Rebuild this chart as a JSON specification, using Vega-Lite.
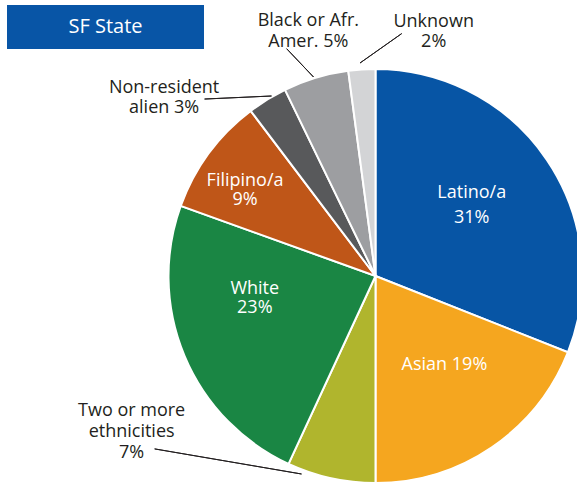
{
  "$schema": "https://vega.github.io/schema/vega-lite/v6.json",
  "padding": {"left": 7, "top": 5, "right": 0, "bottom": 0},
  "background": "white",
  "bounds": "flush",
  "spacing": 0,
  "config": {"font": "Open Sans", "view": {"stroke": null}},
  "datasets": {
    "groups": [
      {"order": 1, "category": "Latino/a", "value": 31.0, "label": "Latino/a\n31%"},
      {"order": 2, "category": "Asian", "value": 19.0, "label": "Asian 19%"},
      {"order": 3, "category": "Two or more ethnicities", "value": 6.9, "label": "Two or more\nethnicities\n7%"},
      {"order": 4, "category": "White", "value": 23.6, "label": "White\n23%"},
      {"order": 5, "category": "Filipino/a", "value": 9.2, "label": "Filipino/a\n9%"},
      {"order": 6, "category": "Non-resident alien", "value": 3.1, "label": "Non-resident\nalien 3%"},
      {"order": 7, "category": "Black or Afr. Amer.", "value": 5.1, "label": "Black or Afr.\nAmer. 5%"},
      {"order": 8, "category": "Unknown", "value": 2.1, "label": "Unknown\n2%"}
    ]
  },
  "hconcat": [
    {
      "width": 197,
      "height": 44,
      "view": {"fill": "#0855a6", "stroke": null},
      "data": {"values": [{"title": "SF State"}]},
      "mark": {"type": "text", "fontSize": 20, "fill": "white", "font": "Open Sans", "align": "center", "baseline": "middle"},
      "encoding": {"text": {"field": "title"}}
    },
    {
      "width": 343,
      "height": 542,
      "view": {"stroke": null},
      "data": {"name": "groups"},
      "layer": [
        {
          "mark": {"type": "arc", "radius": 207, "stroke": "white", "strokeWidth": 2},
          "encoding": {
            "theta": {"field": "value", "type": "quantitative", "stack": true, "scale": {"domain": [0, 100]}},
            "order": {"field": "order", "type": "quantitative"},
            "color": {
              "field": "category",
              "type": "nominal",
              "scale": {
                "domain": ["Latino/a", "Asian", "Two or more ethnicities", "White", "Filipino/a", "Non-resident alien", "Black or Afr. Amer.", "Unknown"],
                "range": ["#0755a5", "#f5a61f", "#b0b52d", "#1a8644", "#bf5618", "#58595b", "#9d9ea1", "#d3d4d6"]
              },
              "legend": null
            }
          }
        },
        {
          "transform": [
            {"stack": "value", "groupby": [], "sort": [{"field": "order", "order": "ascending"}], "as": ["v0", "v1"]},
            {"fold": ["v0", "v1"], "as": ["edge", "pos"]},
            {"aggregate": [{"op": "mean", "field": "pos", "as": "mid"}], "groupby": ["category", "label"]},
            {"filter": "datum.category === 'Latino/a'"}
          ],
          "mark": {"type": "text", "radius": 120, "dx": -3, "dy": -16, "fontSize": 18, "lineHeight": 25, "lineBreak": "\n", "fill": "white", "align": "center", "baseline": "middle"},
          "encoding": {"theta": {"field": "mid", "type": "quantitative", "stack": null}, "text": {"field": "label"}}
        },
        {
          "transform": [
            {"stack": "value", "groupby": [], "sort": [{"field": "order", "order": "ascending"}], "as": ["v0", "v1"]},
            {"fold": ["v0", "v1"], "as": ["edge", "pos"]},
            {"aggregate": [{"op": "mean", "field": "pos", "as": "mid"}], "groupby": ["category", "label"]},
            {"filter": "datum.category === 'Asian'"}
          ],
          "mark": {"type": "text", "radius": 112, "dx": 6, "dy": -4, "fontSize": 18, "lineHeight": 20, "lineBreak": "\n", "fill": "white", "align": "center", "baseline": "middle"},
          "encoding": {"theta": {"field": "mid", "type": "quantitative", "stack": null}, "text": {"field": "label"}}
        },
        {
          "transform": [
            {"stack": "value", "groupby": [], "sort": [{"field": "order", "order": "ascending"}], "as": ["v0", "v1"]},
            {"fold": ["v0", "v1"], "as": ["edge", "pos"]},
            {"aggregate": [{"op": "mean", "field": "pos", "as": "mid"}], "groupby": ["category", "label"]},
            {"filter": "datum.category === 'White'"}
          ],
          "mark": {"type": "text", "radius": 120, "dx": -10, "dy": -33, "fontSize": 18, "lineHeight": 18.5, "lineBreak": "\n", "fill": "white", "align": "center", "baseline": "middle"},
          "encoding": {"theta": {"field": "mid", "type": "quantitative", "stack": null}, "text": {"field": "label"}}
        },
        {
          "transform": [
            {"stack": "value", "groupby": [], "sort": [{"field": "order", "order": "ascending"}], "as": ["v0", "v1"]},
            {"fold": ["v0", "v1"], "as": ["edge", "pos"]},
            {"aggregate": [{"op": "mean", "field": "pos", "as": "mid"}], "groupby": ["category", "label"]},
            {"filter": "datum.category === 'Filipino/a'"}
          ],
          "mark": {"type": "text", "radius": 157, "dx": -4, "dy": -2, "fontSize": 18, "lineHeight": 19.5, "lineBreak": "\n", "fill": "white", "align": "center", "baseline": "middle"},
          "encoding": {"theta": {"field": "mid", "type": "quantitative", "stack": null}, "text": {"field": "label"}}
        },
        {
          "transform": [
            {"stack": "value", "groupby": [], "sort": [{"field": "order", "order": "ascending"}], "as": ["v0", "v1"]},
            {"fold": ["v0", "v1"], "as": ["edge", "pos"]},
            {"aggregate": [{"op": "mean", "field": "pos", "as": "mid"}], "groupby": ["category", "label"]},
            {"filter": "datum.category === 'Black or Afr. Amer.'"}
          ],
          "mark": {"type": "text", "radius": 254, "dx": 6, "dy": -11.5, "fontSize": 18, "lineHeight": 21, "lineBreak": "\n", "fill": "#231f20", "align": "center", "baseline": "middle"},
          "encoding": {"theta": {"field": "mid", "type": "quantitative", "stack": null}, "text": {"field": "label"}}
        },
        {
          "transform": [
            {"stack": "value", "groupby": [], "sort": [{"field": "order", "order": "ascending"}], "as": ["v0", "v1"]},
            {"fold": ["v0", "v1"], "as": ["edge", "pos"]},
            {"aggregate": [{"op": "mean", "field": "pos", "as": "mid"}], "groupby": ["category", "label"]},
            {"filter": "datum.category === 'Unknown'"}
          ],
          "mark": {"type": "text", "radius": 240, "dx": 74, "dy": -15, "fontSize": 18, "lineHeight": 20, "lineBreak": "\n", "fill": "#231f20", "align": "center", "baseline": "middle"},
          "encoding": {"theta": {"field": "mid", "type": "quantitative", "stack": null}, "text": {"field": "label"}}
        },
        {
          "transform": [
            {"stack": "value", "groupby": [], "sort": [{"field": "order", "order": "ascending"}], "as": ["v0", "v1"]},
            {"fold": ["v0", "v1"], "as": ["edge", "pos"]},
            {"aggregate": [{"op": "mean", "field": "pos", "as": "mid"}], "groupby": ["category", "label"]},
            {"filter": "datum.category === 'Non-resident alien'"}
          ],
          "mark": {"type": "text", "radius": 263, "dx": -74, "dy": 36, "fontSize": 18, "lineHeight": 20, "lineBreak": "\n", "fill": "#231f20", "align": "center", "baseline": "middle"},
          "encoding": {"theta": {"field": "mid", "type": "quantitative", "stack": null}, "text": {"field": "label"}}
        },
        {
          "transform": [
            {"stack": "value", "groupby": [], "sort": [{"field": "order", "order": "ascending"}], "as": ["v0", "v1"]},
            {"fold": ["v0", "v1"], "as": ["edge", "pos"]},
            {"aggregate": [{"op": "mean", "field": "pos", "as": "mid"}], "groupby": ["category", "label"]},
            {"filter": "datum.category === 'Two or more ethnicities'"}
          ],
          "mark": {"type": "text", "radius": 204, "dx": -200, "dy": -64, "fontSize": 18, "lineHeight": 21, "lineBreak": "\n", "fill": "#231f20", "align": "center", "baseline": "middle"},
          "encoding": {"theta": {"field": "mid", "type": "quantitative", "stack": null}, "text": {"field": "label"}}
        },
        {
          "transform": [
            {"window": [{"op": "sum", "field": "value", "as": "cum"}], "sort": [{"field": "order"}], "frame": [null, 0]},
            {"filter": "datum.category === 'Non-resident alien'"}
          ],
          "mark": {"type": "arc", "radius": 67, "radius2": 0, "thetaOffset": -1.1638, "theta2Offset": -1.1638, "xOffset": -104, "yOffset": -180, "stroke": "#231f20", "strokeWidth": 1, "fillOpacity": 0},
          "encoding": {"theta": {"field": "cum", "type": "quantitative", "stack": null}, "theta2": {"field": "cum"}}
        },
        {
          "transform": [
            {"window": [{"op": "sum", "field": "value", "as": "cum"}], "sort": [{"field": "order"}], "frame": [null, 0]},
            {"filter": "datum.category === 'Black or Afr. Amer.'"}
          ],
          "mark": {"type": "arc", "radius": 39, "radius2": 0, "thetaOffset": -0.6273, "theta2Offset": -0.6273, "xOffset": -62, "yOffset": -199, "stroke": "#231f20", "strokeWidth": 1, "fillOpacity": 0},
          "encoding": {"theta": {"field": "cum", "type": "quantitative", "stack": null}, "theta2": {"field": "cum"}}
        },
        {
          "transform": [
            {"window": [{"op": "sum", "field": "value", "as": "cum"}], "sort": [{"field": "order"}], "frame": [null, 0]},
            {"filter": "datum.category === 'Unknown'"}
          ],
          "mark": {"type": "arc", "radius": 51, "radius2": 0, "thetaOffset": 0.9564, "theta2Offset": 0.9564, "xOffset": -15.5, "yOffset": -213, "stroke": "#231f20", "strokeWidth": 1, "fillOpacity": 0},
          "encoding": {"theta": {"field": "cum", "type": "quantitative", "stack": null}, "theta2": {"field": "cum"}}
        },
        {
          "transform": [
            {"window": [{"op": "sum", "field": "value", "as": "cum"}], "sort": [{"field": "order"}], "frame": [null, 0]},
            {"filter": "datum.category === 'Two or more ethnicities'"}
          ],
          "mark": {"type": "arc", "radius": 149, "radius2": 0, "thetaOffset": 1.3065, "theta2Offset": 1.3065, "xOffset": -74, "yOffset": 198, "stroke": "#231f20", "strokeWidth": 1, "fillOpacity": 0},
          "encoding": {"theta": {"field": "cum", "type": "quantitative", "stack": null}, "theta2": {"field": "cum"}}
        }
      ]
    }
  ]
}
